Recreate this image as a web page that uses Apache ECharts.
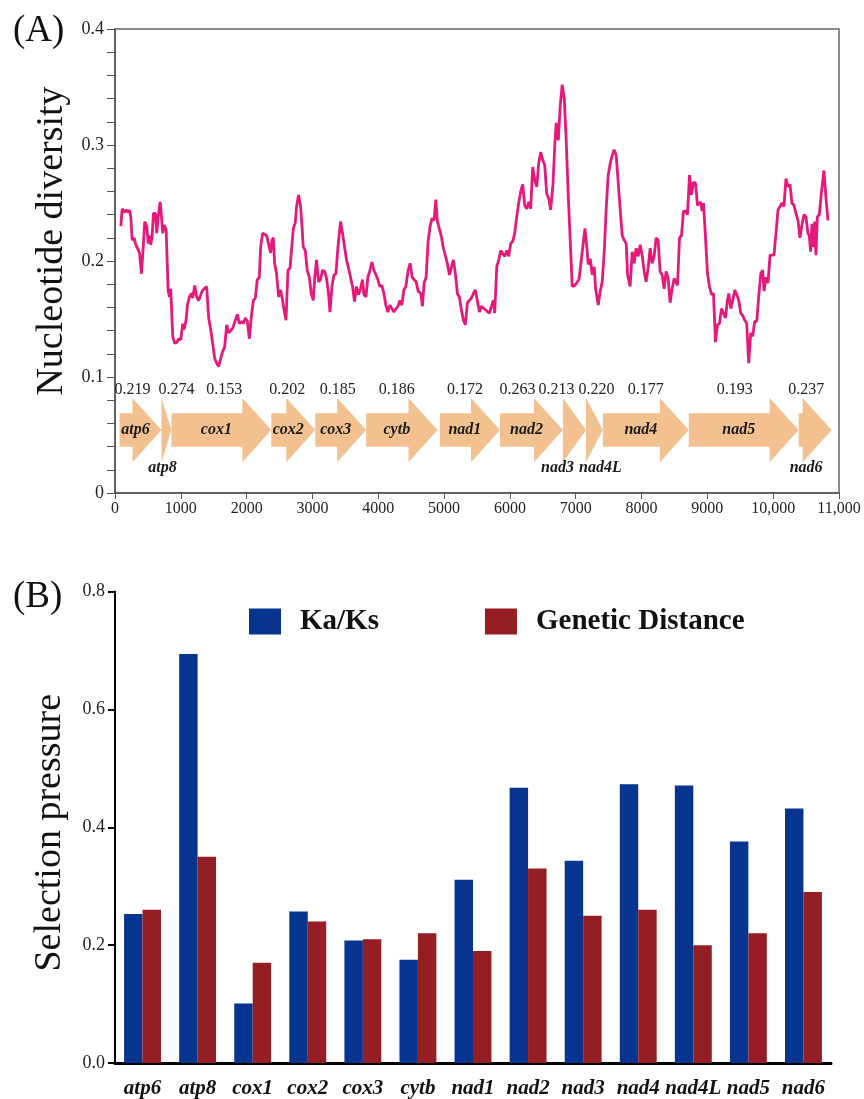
<!DOCTYPE html>
<html>
<head>
<meta charset="utf-8">
<title>Nucleotide diversity and selection pressure</title>
<script src="https://cdn.jsdelivr.net/npm/echarts@6/dist/echarts.min.js"></script>
<style>
  html, body { margin: 0; padding: 0; background: #fff; }
  #chart { width: 864px; height: 1099px; }
</style>
</head>
<body>
<div id="chart"></div>
<script>
const SERIF = "'Liberation Serif', 'DejaVu Serif', serif";

// sliding window nucleotide diversity: [midpoint (bp), Pi]
const piWindows = [
  [88,0.230],[109,0.245],[140,0.242],[170,0.244],[200,0.242],[220,0.244],[240,0.238],[261,0.218],[291,0.220],[311,0.215],
  [341,0.214],[372,0.207],[402,0.189],[432,0.215],[452,0.234],[483,0.230],[504,0.215],[524,0.222],[543,0.214],[565,0.222],
  [584,0.241],[615,0.241],[634,0.224],[656,0.238],[686,0.251],[706,0.238],[725,0.224],[747,0.231],[777,0.227],[807,0.175],
  [827,0.169],[847,0.176],[877,0.135],[907,0.129],[938,0.130],[968,0.133],[999,0.132],[1029,0.146],[1050,0.141],[1080,0.149],
  [1100,0.162],[1131,0.169],[1161,0.172],[1181,0.168],[1211,0.179],[1241,0.169],[1272,0.166],[1302,0.166],[1323,0.174],[1354,0.176],
  [1393,0.178],[1423,0.151],[1454,0.141],[1484,0.129],[1514,0.116],[1545,0.112],[1575,0.109],[1606,0.116],[1636,0.122],[1666,0.126],
  [1697,0.145],[1727,0.138],[1757,0.139],[1788,0.142],[1818,0.143],[1859,0.154],[1889,0.146],[1920,0.148],[1950,0.146],[1980,0.151],
  [2011,0.148],[2041,0.133],[2071,0.152],[2102,0.166],[2132,0.168],[2162,0.184],[2193,0.186],[2213,0.212],[2243,0.224],[2273,0.225],
  [2304,0.222],[2334,0.221],[2364,0.207],[2385,0.218],[2405,0.220],[2425,0.198],[2455,0.189],[2486,0.169],[2516,0.175],[2546,0.166],
  [2568,0.158],[2598,0.149],[2628,0.192],[2659,0.194],[2689,0.214],[2709,0.228],[2739,0.233],[2759,0.247],[2789,0.257],[2820,0.247],
  [2841,0.230],[2860,0.212],[2891,0.209],[2921,0.192],[2952,0.186],[2982,0.172],[3012,0.166],[3032,0.184],[3062,0.201],[3093,0.182],
  [3123,0.184],[3153,0.192],[3184,0.191],[3214,0.185],[3244,0.172],[3266,0.156],[3296,0.178],[3326,0.188],[3357,0.189],[3387,0.212],
  [3427,0.234],[3457,0.224],[3487,0.212],[3518,0.201],[3548,0.194],[3578,0.194],[3609,0.178],[3639,0.165],[3669,0.178],[3700,0.171],
  [3730,0.176],[3760,0.184],[3782,0.171],[3812,0.169],[3842,0.186],[3873,0.192],[3903,0.199],[3933,0.192],[3964,0.188],[3994,0.184],
  [4024,0.178],[4055,0.179],[4085,0.172],[4115,0.162],[4146,0.156],[4176,0.162],[4206,0.161],[4237,0.156],[4267,0.155],[4298,0.161],
  [4328,0.166],[4358,0.162],[4389,0.175],[4419,0.178],[4454,0.192],[4484,0.198],[4515,0.186],[4545,0.185],[4575,0.182],[4606,0.174],
  [4647,0.172],[4671,0.161],[4697,0.181],[4727,0.186],[4757,0.217],[4788,0.230],[4818,0.237],[4848,0.235],[4874,0.253],[4899,0.234],
  [4929,0.235],[4959,0.221],[4990,0.211],[5020,0.212],[5050,0.198],[5081,0.188],[5111,0.188],[5141,0.201],[5172,0.189],[5202,0.172],
  [5232,0.169],[5263,0.158],[5293,0.149],[5323,0.145],[5354,0.164],[5384,0.165],[5414,0.168],[5445,0.172],[5475,0.175],[5505,0.176],
  [5536,0.156],[5566,0.161],[5596,0.161],[5627,0.158],[5657,0.158],[5688,0.155],[5718,0.155],[5748,0.166],[5769,0.155],[5800,0.195],
  [5830,0.201],[5861,0.209],[5891,0.209],[5921,0.204],[5952,0.209],[5982,0.204],[6012,0.215],[6043,0.217],[6073,0.224],[6103,0.238],
  [6134,0.250],[6164,0.260],[6194,0.266],[6225,0.248],[6255,0.245],[6286,0.251],[6316,0.245],[6346,0.281],[6377,0.270],[6407,0.264],
  [6437,0.284],[6468,0.294],[6498,0.287],[6528,0.283],[6559,0.258],[6589,0.254],[6619,0.244],[6654,0.266],[6685,0.303],[6704,0.319],
  [6735,0.304],[6765,0.334],[6795,0.352],[6826,0.340],[6856,0.303],[6886,0.257],[6917,0.217],[6947,0.178],[6988,0.179],[7018,0.179],
  [7049,0.184],[7079,0.184],[7099,0.208],[7140,0.228],[7170,0.211],[7190,0.197],[7220,0.202],[7251,0.188],[7281,0.195],[7302,0.176],
  [7342,0.162],[7372,0.174],[7402,0.182],[7433,0.208],[7463,0.245],[7493,0.274],[7524,0.284],[7554,0.291],[7584,0.296],[7615,0.291],
  [7645,0.268],[7675,0.245],[7706,0.222],[7736,0.218],[7767,0.215],[7788,0.188],[7827,0.178],[7858,0.208],[7888,0.198],[7918,0.211],
  [7949,0.204],[7979,0.214],[8009,0.205],[8040,0.191],[8070,0.182],[8100,0.194],[8131,0.211],[8161,0.198],[8191,0.204],[8222,0.220],
  [8252,0.218],[8282,0.191],[8313,0.188],[8343,0.176],[8373,0.191],[8404,0.185],[8434,0.164],[8465,0.176],[8495,0.185],[8525,0.185],
  [8546,0.179],[8577,0.220],[8607,0.222],[8637,0.243],[8668,0.243],[8698,0.240],[8729,0.274],[8759,0.257],[8789,0.268],[8820,0.267],
  [8850,0.248],[8899,0.251],[8920,0.243],[8941,0.250],[8971,0.221],[9002,0.189],[9032,0.178],[9062,0.171],[9093,0.172],[9123,0.130],
  [9153,0.145],[9184,0.146],[9214,0.159],[9244,0.155],[9275,0.151],[9305,0.166],[9325,0.172],[9356,0.159],[9386,0.166],[9416,0.175],
  [9446,0.171],[9477,0.166],[9507,0.155],[9537,0.153],[9568,0.149],[9598,0.146],[9628,0.112],[9659,0.138],[9689,0.135],[9719,0.148],
  [9750,0.148],[9780,0.169],[9811,0.189],[9841,0.192],[9861,0.174],[9891,0.186],[9921,0.181],[9952,0.205],[9982,0.204],[10012,0.205],
  [10043,0.224],[10073,0.244],[10103,0.245],[10134,0.250],[10164,0.247],[10194,0.271],[10225,0.264],[10255,0.266],[10285,0.250],[10316,0.248],
  [10346,0.241],[10377,0.235],[10407,0.220],[10437,0.231],[10468,0.240],[10498,0.238],[10528,0.224],[10549,0.222],[10569,0.208],[10589,0.232],
  [10610,0.212],[10630,0.234],[10650,0.205],[10671,0.238],[10701,0.240],[10731,0.258],[10771,0.278],[10801,0.255],[10832,0.235]
];

// gene map along the alignment
const geneNames = ['atp6', 'atp8', 'cox1', 'cox2', 'cox3', 'cytb', 'nad1', 'nad2', 'nad3', 'nad4L', 'nad4', 'nad5', 'nad6'];
const geneStart = [70, 706, 857, 2375, 3043, 3816, 4935, 5850, 6806, 7155, 7413, 8718, 10387];
const geneEnd = [706, 857, 2375, 3043, 3816, 4900, 5850, 6806, 7155, 7413, 8718, 10387, 10888];
const genePi = ['0.219', '0.274', '0.153', '0.202', '0.185', '0.186', '0.172', '0.263', '0.213', '0.220', '0.177', '0.193', '0.237'];

// panel B
const pcgNames = ['atp6', 'atp8', 'cox1', 'cox2', 'cox3', 'cytb', 'nad1', 'nad2', 'nad3', 'nad4', 'nad4L', 'nad5', 'nad6'];
const kaKs = [0.253, 0.694, 0.101, 0.257, 0.208, 0.175, 0.311, 0.467, 0.343, 0.473, 0.471, 0.376, 0.432];
const geneticDistance = [0.26, 0.35, 0.17, 0.24, 0.21, 0.22, 0.19, 0.33, 0.25, 0.26, 0.20, 0.22, 0.29];

// arrow layout (y in data units of panel A, head length in px)
const ARROW_MID = 0.0543;
const BODY_HALF = 0.0145;
const HEAD_HALF = 0.0277;
const HEAD_PX = 29;
const PI_LABEL_Y = 0.089;
const BELOW_LABEL_Y = 0.0216;
const ARROW_COLOR = '#F3C18F';
const piShift = { atp6: -8, atp8: 10, cox1: 3, cox2: -6, cox3: -3, nad2: -14, nad3: -18, nad4L: 2, nad4: 0, nad5: -9, nad6: -9 };
const nameShift = { atp8: -4, nad3: -17, nad4L: 6, nad6: -9 };

function renderGene(params, api) {
  const i = params.dataIndex;
  const name = geneNames[i];
  const left = api.coord([geneStart[i], ARROW_MID]);
  const right = api.coord([geneEnd[i], ARROW_MID]);
  const cy = left[1];
  const body = api.size([0, BODY_HALF])[1];
  const head = api.size([0, HEAD_HALF])[1];
  const hx = right[0] - Math.min(HEAD_PX, right[0] - left[0]);
  const below = hx - left[0] < 8;
  const mid = (left[0] + right[0]) / 2;
  const piY = api.coord([0, PI_LABEL_Y])[1];
  const belowY = api.coord([0, BELOW_LABEL_Y])[1];
  return {
    type: 'group',
    children: [
      {
        type: 'polygon',
        shape: {
          points: [
            [left[0], cy - body], [hx, cy - body], [hx, cy - head], [right[0], cy],
            [hx, cy + head], [hx, cy + body], [left[0], cy + body]
          ]
        },
        style: { fill: ARROW_COLOR }
      },
      {
        type: 'text',
        style: {
          text: name, x: mid + (nameShift[name] ?? -5), y: below ? belowY : cy,
          font: `italic bold 16px ${SERIF}`, fill: '#1a1a1a', align: 'center', verticalAlign: 'middle'
        }
      },
      {
        type: 'text',
        style: {
          text: genePi[i], x: mid + (piShift[name] ?? -5), y: piY,
          font: `16px ${SERIF}`, fill: '#222', align: 'center', verticalAlign: 'middle'
        }
      }
    ]
  };
}

const chart = echarts.init(document.getElementById('chart'), null, { renderer: 'canvas' });

chart.setOption({
  animation: false,
  backgroundColor: '#fff',
  textStyle: { fontFamily: SERIF },
  title: [
    { text: '(A)', left: 8, top: 8, textStyle: { fontFamily: SERIF, fontSize: 37, fontWeight: 'normal', color: '#111' } },
    { text: '(B)', left: 8, top: 574, textStyle: { fontFamily: SERIF, fontSize: 37, fontWeight: 'normal', color: '#111' } }
  ],
  legend: {
    data: ['Ka/Ks', 'Genetic Distance'],
    left: 244, top: 602,
    icon: 'rect', itemWidth: 32, itemHeight: 26, itemGap: 106,
    textStyle: { fontFamily: SERIF, fontSize: 29, fontWeight: 'bold', color: '#111', padding: [0, 0, 0, 14] }
  },
  grid: [
    { left: 115, top: 29, width: 724, height: 464, show: true, borderColor: '#666', borderWidth: 1.5 },
    { left: 115, top: 591.5, width: 716, height: 472 }
  ],
  xAxis: [
    {
      gridIndex: 0, type: 'value', min: 0, max: 11000, interval: 1000,
      axisLine: { lineStyle: { color: '#555', width: 1.5 } },
      axisTick: { length: 6, lineStyle: { color: '#555' } },
      splitLine: { show: false },
      axisLabel: {
        color: '#222', fontSize: 16, fontFamily: SERIF, margin: 8,
        formatter: v => v >= 10000 ? v.toLocaleString('en-US') : String(v)
      }
    },
    {
      gridIndex: 1, type: 'category', data: pcgNames,
      axisLine: { lineStyle: { color: '#000', width: 3 } },
      axisTick: { show: false },
      axisLabel: { color: '#111', fontSize: 21, fontStyle: 'italic', fontWeight: 'bold', fontFamily: SERIF, margin: 15, interval: 0 }
    }
  ],
  yAxis: [
    {
      gridIndex: 0, type: 'value', min: 0, max: 0.4, interval: 0.1,
      name: 'Nucleotide diversity', nameLocation: 'middle', nameGap: 42,
      nameTextStyle: { fontFamily: SERIF, fontSize: 38, color: '#111', padding: [0, 0, 0, 40] },
      axisLine: { show: true, lineStyle: { color: '#555', width: 1.5 } },
      axisTick: { show: true, length: 8, lineStyle: { color: '#555' } },
      minorTick: { show: true, splitNumber: 5, length: 8, lineStyle: { color: '#555' } },
      splitLine: { show: false },
      axisLabel: { color: '#222', fontSize: 18, fontFamily: SERIF, margin: 11, formatter: v => v === 0 ? '0' : v.toFixed(1) }
    },
    {
      gridIndex: 1, type: 'value', min: 0, max: 0.8, interval: 0.2,
      name: 'Selection pressure', nameLocation: 'middle', nameGap: 46,
      nameTextStyle: { fontFamily: SERIF, fontSize: 38, color: '#111', padding: [0, 11, 0, 0] },
      axisLine: { show: true, lineStyle: { color: '#000', width: 2 } },
      axisTick: { show: true, length: 7, lineStyle: { color: '#000', width: 2 } },
      splitLine: { show: false },
      axisLabel: { color: '#222', fontSize: 18, fontFamily: SERIF, margin: 10, formatter: v => v.toFixed(1) }
    }
  ],
  series: [
    {
      name: 'Pi', type: 'line', xAxisIndex: 0, yAxisIndex: 0,
      data: piWindows, showSymbol: false, smooth: false,
      lineStyle: { color: '#E6197A', width: 2.8 }, z: 3
    },
    {
      name: 'genes', type: 'custom', xAxisIndex: 0, yAxisIndex: 0,
      data: geneNames.map((n, i) => [geneStart[i], geneEnd[i]]),
      encode: { x: [0, 1] },
      renderItem: renderGene, z: 2
    },
    {
      name: 'Ka/Ks', type: 'bar', xAxisIndex: 1, yAxisIndex: 1,
      data: kaKs, barGap: '0%', barCategoryGap: '33%',
      itemStyle: { color: '#06348F' }
    },
    {
      name: 'Genetic Distance', type: 'bar', xAxisIndex: 1, yAxisIndex: 1,
      data: geneticDistance, barGap: '0%', barCategoryGap: '33%',
      itemStyle: { color: '#951D24' }
    }
  ]
});
</script>
</body>
</html>
